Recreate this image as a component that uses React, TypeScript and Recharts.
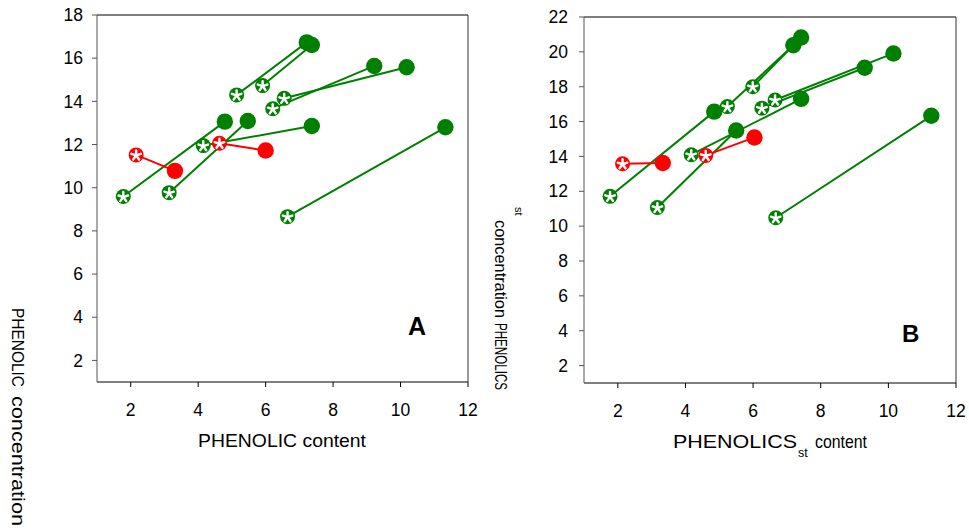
import { ScatterChart, Scatter, XAxis, YAxis, ReferenceLine } from 'recharts'

const GREEN = '#008000'
const RED = '#ff0000'
const FONT = '"Liberation Sans", Arial, sans-serif'

// tick labels
const xTicks = [2, 4, 6, 8, 10, 12]
const yTicksA = [2, 4, 6, 8, 10, 12, 14, 16, 18]
const yTicksB = [2, 4, 6, 8, 10, 12, 14, 16, 18, 20, 22]

// panel A: [content, concentration], before (asterisk) -> after (filled)
const aGreenBefore = [[1.78, 9.59], [3.14, 9.77], [4.15, 11.95], [5.14, 14.3], [5.91, 14.73], [6.21, 13.66], [6.55, 14.14], [6.65, 8.66]]
const aGreenAfter = [[4.79, 13.06], [5.47, 13.09], [7.37, 12.86], [7.22, 16.73], [7.37, 16.61], [9.22, 15.64], [10.18, 15.58], [11.33, 12.8]]
const aRedBefore = [[2.16, 11.52], [4.63, 12.06]]
const aRedAfter = [[3.31, 10.78], [6.0, 11.72]]

// panel B
const bGreenBefore = [[1.77, 11.71], [3.17, 11.07], [4.17, 14.1], [5.24, 16.86], [5.99, 18.0], [6.26, 16.77], [6.65, 17.24], [6.67, 10.48]]
const bGreenAfter = [[4.85, 16.57], [5.5, 15.49], [7.42, 17.3], [7.19, 20.38], [7.42, 20.82], [9.3, 19.09], [10.15, 19.91], [11.27, 16.33]]
const bRedBefore = [[2.14, 13.58], [4.6, 14.06]]
const bRedAfter = [[3.33, 13.62], [6.04, 15.09]]

const toPts = (arr: number[][]) => arr.map(([x, y]) => ({ x, y }))

const startMark = (color: string) => (props: any) => {
  const { cx, cy } = props
  if (cx == null || cy == null) return <g />
  const arms = [0, 1, 2, 3, 4].map(i => {
    const a = ((-90 + i * 72) * Math.PI) / 180
    return <line key={i} x1={cx} y1={cy + 0.5} x2={cx + 5 * Math.cos(a)} y2={cy + 0.5 + 5 * Math.sin(a)} />
  })
  return (
    <g>
      <circle cx={cx} cy={cy} r={7.5} fill={color} />
      <g stroke="#fff" strokeWidth={2.4} strokeLinecap="round">{arms}</g>
    </g>
  )
}

const endMark = (color: string) => (props: any) => {
  const { cx, cy } = props
  if (cx == null || cy == null) return <g />
  return <circle cx={cx} cy={cy} r={8.2} fill={color} />
}

const noMark = () => <g />

interface PanelProps {
  width: number
  height: number
  margin: { top: number; right: number; bottom: number; left: number }
  yMax: number
  yTicks: number[]
  yTickMargin: number
  greenBefore: number[][]
  greenAfter: number[][]
  redBefore: number[][]
  redAfter: number[][]
}

function Panel(p: PanelProps) {
  const gB = toPts(p.greenBefore)
  const gA = toPts(p.greenAfter)
  const rB = toPts(p.redBefore)
  const rA = toPts(p.redAfter)
  const tick = { fontSize: 17.5, fill: '#000', fontFamily: FONT }
  return (
    <ScatterChart width={p.width} height={p.height} margin={p.margin}>
      <XAxis
        type="number" dataKey="x" domain={[1, 12]} ticks={xTicks} allowDataOverflow
        height={30} tickSize={5} tickMargin={17} tick={tick}
        stroke="#000" tickLine={{ stroke: '#000' }}
      />
      <YAxis
        type="number" dataKey="y" domain={[1, p.yMax]} ticks={p.yTicks} allowDataOverflow
        width={40} tickSize={5} tickMargin={p.yTickMargin} tick={tick}
        stroke="#555" tickLine={{ stroke: '#555' }}
      />
      {/* frame: top and right edges */}
      <ReferenceLine y={p.yMax} stroke="#000" strokeWidth={1} ifOverflow="visible" />
      <ReferenceLine x={12} stroke="#333" strokeWidth={1} ifOverflow="visible" />

      {gB.map((pt, i) => (
        <Scatter key={'gl' + i} data={[pt, gA[i]]} fill={GREEN} line={{ stroke: GREEN, strokeWidth: 2 }} shape={noMark} isAnimationActive={false} />
      ))}
      {rB.map((pt, i) => (
        <Scatter key={'rl' + i} data={[pt, rA[i]]} fill={RED} line={{ stroke: RED, strokeWidth: 2 }} shape={noMark} isAnimationActive={false} />
      ))}
      <Scatter data={gB} fill={GREEN} shape={startMark(GREEN)} isAnimationActive={false} />
      <Scatter data={gA} fill={GREEN} shape={endMark(GREEN)} isAnimationActive={false} />
      <Scatter data={rB} fill={RED} shape={startMark(RED)} isAnimationActive={false} />
      <Scatter data={rA} fill={RED} shape={endMark(RED)} isAnimationActive={false} />
    </ScatterChart>
  )
}

export default function App() {
  return (
    <div style={{ position: 'absolute', left: 0, top: 0, width: 969, height: 532, background: '#fff', overflow: 'hidden' }}>
      <div style={{ position: 'absolute', left: 0, top: 0 }}>
        <Panel
          width={490} height={470}
          margin={{ top: 15, right: 22, bottom: 58, left: 57 }}
          yMax={18} yTicks={yTicksA} yTickMargin={9}
          greenBefore={aGreenBefore} greenAfter={aGreenAfter}
          redBefore={aRedBefore} redAfter={aRedAfter}
        />
      </div>
      <div style={{ position: 'absolute', left: 490, top: 0 }}>
        <Panel
          width={479} height={470}
          margin={{ top: 17, right: 13, bottom: 57, left: 54 }}
          yMax={22} yTicks={yTicksB} yTickMargin={11}
          greenBefore={bGreenBefore} greenAfter={bGreenAfter}
          redBefore={bRedBefore} redAfter={bRedAfter}
        />
      </div>
      <svg width={969} height={532} style={{ position: 'absolute', left: 0, top: 0, pointerEvents: 'none' }} fontFamily={FONT} fill="#000">
        {/* panel A titles */}
        <text x={198} y={447} fontSize={18.5} textLength={168} lengthAdjust="spacingAndGlyphs">PHENOLIC content</text>
        <text x={12} y={308} fontSize={17} transform="rotate(90 12 308)" textLength={79} lengthAdjust="spacingAndGlyphs">PHENOLIC</text>
        <text x={12} y={396} fontSize={17.5} transform="rotate(90 12 396)" textLength={130} lengthAdjust="spacingAndGlyphs">concentration</text>
        <text x={408} y={335} fontSize={25} fontWeight="bold">A</text>
        {/* panel B titles */}
        <text x={673} y={448} fontSize={18.5} textLength={124} lengthAdjust="spacingAndGlyphs">PHENOLICS</text>
        <text x={798} y={457} fontSize={12.5}>st</text>
        <text x={815} y={448} fontSize={18.5} textLength={52} lengthAdjust="spacingAndGlyphs">content</text>
        <text x={515} y={207} fontSize={11} transform="rotate(90 515 207)">st</text>
        <text x={495} y={220} fontSize={17} transform="rotate(90 495 220)" textLength={98} lengthAdjust="spacingAndGlyphs">concentration</text>
        <text x={495} y={323} fontSize={17} transform="rotate(90 495 323)" textLength={67} lengthAdjust="spacingAndGlyphs">PHENOLICS</text>
        <text x={902} y={342} fontSize={24} fontWeight="bold">B</text>
      </svg>
    </div>
  )
}
